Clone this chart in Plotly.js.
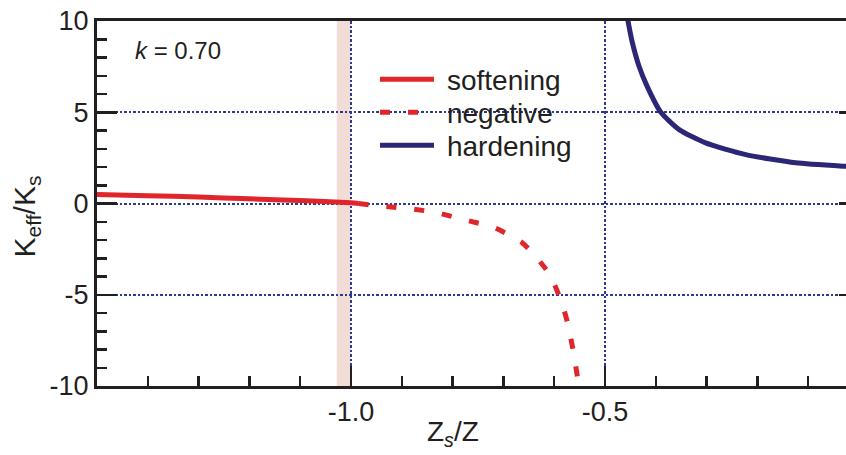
<!DOCTYPE html>
<html><head><meta charset="utf-8">
<script src="https://cdn.plot.ly/plotly-3.0.1.min.js"></script>
<style>html,body{margin:0;padding:0;overflow:hidden;background:#fff}#chart{width:862px;height:455px}</style>
</head><body><div id="chart"></div>
<script>
// ---- data ----
const softX = [-1.5, -1.4, -1.3, -1.2, -1.1, -1.0, -0.985];
const softY = [0.50, 0.43, 0.35, 0.26, 0.16, 0.04, 0.0];

const negX = [-0.985, -0.937, -0.883, -0.830, -0.774, -0.717, -0.663, -0.640, -0.616, -0.600, -0.589, -0.580, -0.572, -0.562, -0.553, -0.545];
const negY = [0.0, -0.15, -0.29, -0.51, -0.91, -1.33, -2.15, -2.80, -3.61, -4.40, -5.16, -5.90, -6.72, -8.18, -9.73, -11.5];

const hardX = [-0.462, -0.4547, -0.446, -0.433, -0.417, -0.390, -0.354, -0.302, -0.223, -0.125, -0.029, 0.0];
const hardY = [11.2, 10.0, 8.80, 7.52, 6.42, 5.00, 4.05, 3.32, 2.68, 2.23, 2.04, 2.00];

const seriesNames = ['softening', 'negative', 'hardening'];
const xTickVals = [-1.0, -0.5];
const xTickText = ['-1.0', '-0.5'];
const yTickVals = [-10, -5, 0, 5, 10];
const yTickText = ['-10', '-5', '0', '5', '10'];
const bandX = [-1.028, -1.0];
const kLabel = '<i>k</i> = 0.70';
const xTitle = 'Z<sub><i>s</i></sub>/Z';
const yTitle = 'K<sub>eff</sub>/K<sub>s</sub>';

// ---- styles ----
const RED = '#e0262a', NAVY = '#2b2676', INK = '#231f20', GRID = '#2b3990';
const FONT = 'Liberation Sans, Arial, Helvetica, sans-serif';

const traces = [
  {x: softX, y: softY, name: seriesNames[0], mode: 'lines', legend: 'legend',
   line: {color: RED, width: 5, shape: 'spline', smoothing: 0.6}},
  {x: negX, y: negY, name: seriesNames[1], mode: 'lines', legend: 'legend2',
   line: {color: RED, width: 5, dash: '10px,18px', shape: 'spline', smoothing: 0.6}},
  {x: hardX, y: hardY, name: seriesNames[2], mode: 'lines', legend: 'legend3',
   line: {color: NAVY, width: 5, shape: 'spline', smoothing: 0.6}}
];

const legBase = {xanchor: 'left', yanchor: 'middle', bgcolor: 'rgba(0,0,0,0)', borderwidth: 0,
  font: {size: 28, color: INK, family: FONT}, itemwidth: 62,
  xref: 'paper', yref: 'paper'};

const axisCommon = {
  showline: true, linewidth: 3, linecolor: INK,
  ticks: 'inside', ticklen: 20, tickwidth: 2.5, tickcolor: INK,
  showgrid: true, gridcolor: GRID, gridwidth: 2, griddash: '2.5px,2px',
  zeroline: false, automargin: false,
  tickfont: {size: 27, color: INK, family: FONT}
};

const layout = {
  width: 862, height: 455,
  margin: {l: 97, r: 3, t: 21, b: 69, pad: 0},
  paper_bgcolor: '#ffffff', plot_bgcolor: '#ffffff',
  font: {family: FONT, color: INK},
  xaxis: Object.assign({}, axisCommon, {
    range: [-1.5, 0], tickmode: 'array', tickvals: xTickVals, ticktext: xTickText,
    mirror: true,
    minor: {tickmode: 'linear', tick0: 0, dtick: 0.1, ticks: 'inside', ticklen: 10,
            tickwidth: 2.5, tickcolor: INK, showgrid: false}
  }),
  yaxis: Object.assign({}, axisCommon, {
    range: [-10, 10], tickmode: 'array', tickvals: yTickVals, ticktext: yTickText,
    mirror: 'ticks',
    minor: {tickmode: 'linear', tick0: 0, dtick: 1, ticks: 'inside', ticklen: 10,
            tickwidth: 2.5, tickcolor: INK, showgrid: false}
  }),
  shapes: [
    {type: 'rect', xref: 'x', yref: 'paper', x0: bandX[0], x1: bandX[1], y0: 0, y1: 1,
     fillcolor: '#f2dcd6', line: {width: 0}, layer: 'below'},
    // white backdrop of the legend block (hides gridlines behind it)
    {type: 'rect', xref: 'paper', yref: 'paper', x0: 0.367, x1: 0.631, y0: 0.62, y1: 0.88,
     fillcolor: '#ffffff', line: {width: 0}, layer: 'between'}
  ],
  annotations: [
    {text: kLabel, xref: 'paper', yref: 'paper', x: 0.047, y: 0.918,
     xanchor: 'left', yanchor: 'middle', showarrow: false,
     font: {size: 24, color: INK, family: FONT}},
    {text: xTitle, xref: 'paper', yref: 'paper', x: 0.467, y: -0.13,
     xanchor: 'center', yanchor: 'middle', showarrow: false,
     font: {size: 28, color: INK, family: FONT}},
    {text: yTitle, xref: 'paper', yref: 'paper', x: -0.093, y: 0.465, textangle: -90,
     xanchor: 'center', yanchor: 'middle', showarrow: false,
     font: {size: 30, color: INK, family: FONT}}
  ],
  legend: Object.assign({}, legBase, {x: 0.3648, y: 0.8397}),
  legend2: Object.assign({}, legBase, {x: 0.3648, y: 0.7493}),
  legend3: Object.assign({}, legBase, {x: 0.3648, y: 0.6589}),
  showlegend: true
};

Plotly.newPlot('chart', traces, layout, {displayModeBar: false, staticPlot: true}).then(function (gd) {
  // lengthen the legend line samples to match the reference keys
  gd.querySelectorAll('.legendlines path').forEach(function (p) { p.setAttribute('d', 'M5,0h54'); });
});
</script>
</body></html>
